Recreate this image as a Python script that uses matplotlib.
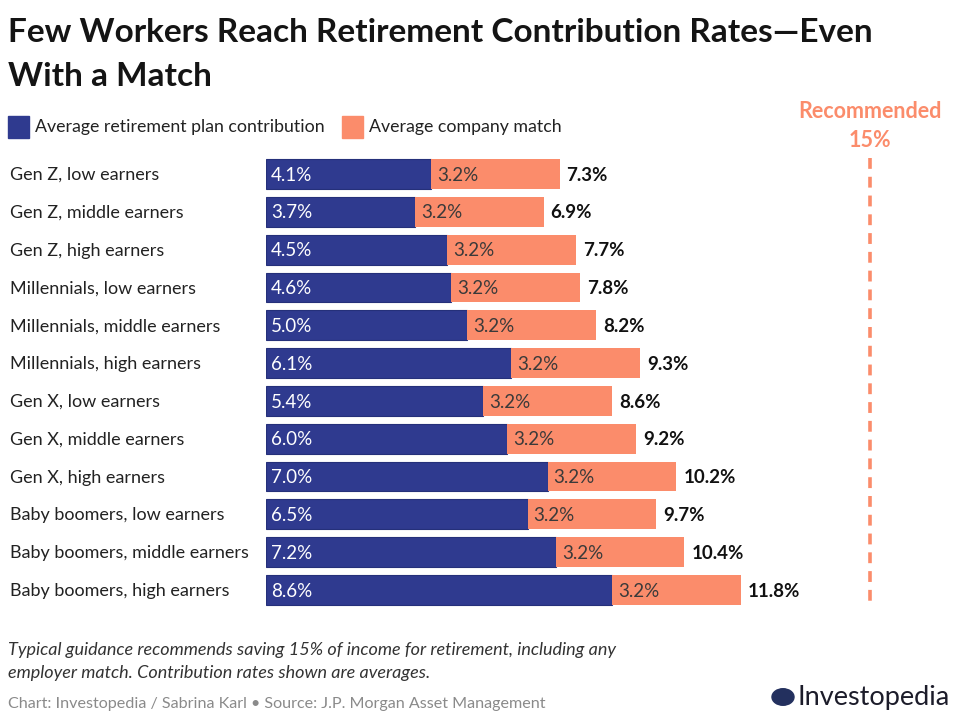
import matplotlib
matplotlib.use('Agg')
import matplotlib.pyplot as plt
from matplotlib.patches import Rectangle, Circle

plt.rcParams['font.family'] = ['Lato', 'DejaVu Sans']

categories = ['Gen Z, low earners', 'Gen Z, middle earners', 'Gen Z, high earners',
              'Millennials, low earners', 'Millennials, middle earners', 'Millennials, high earners',
              'Gen X, low earners', 'Gen X, middle earners', 'Gen X, high earners',
              'Baby boomers, low earners', 'Baby boomers, middle earners', 'Baby boomers, high earners']
contribution = [4.1, 3.7, 4.5, 4.6, 5.0, 6.1, 5.4, 6.0, 7.0, 6.5, 7.2, 8.6]
match = [3.2, 3.2, 3.2, 3.2, 3.2, 3.2, 3.2, 3.2, 3.2, 3.2, 3.2, 3.2]
recommended = 15

navy = '#2f3a8f'
salmon = '#fb8c6b'

W, H = 960, 722
fig = plt.figure(figsize=(W / 100, H / 100), dpi=100)

# axes placed in pixel terms: x0 at 266px, 40.24 px per percent point
left, right = 266, 266 + 17 * 40.24
top, bottom = 150, 610
ax = fig.add_axes([left / W, 1 - bottom / H, (right - left) / W, (bottom - top) / H])
ax.set_xlim(0, 17)
ax.set_ylim(11.53, -0.635)
ax.axis('off')

ys = list(range(len(categories)))
ax.barh(ys, contribution, height=0.79, color=navy, edgecolor='#25307a', linewidth=0.8)
ax.barh(ys, match, left=contribution, height=0.79, color=salmon, linewidth=0)

for y, c, m, name in zip(ys, contribution, match, categories):
    ax.text(0.12, y + 0.03, f'{c:.1f}%', color='white', fontsize=13.5, va='center', ha='left')
    ax.text(c + 0.15, y + 0.03, f'{m:.1f}%', color='#3a3a3a', fontsize=13.5, va='center', ha='left')
    ax.text(c + m + 0.17, y + 0.03, f'{c + m:.1f}%', color='#111111', fontsize=13.5,
            fontweight='bold', va='center', ha='left')
    fig.text(10 / W, 1 - (175 + 37.82 * y) / H, name, fontsize=13, color='#222222',
             va='center', ha='left')

ax.plot([recommended, recommended], [-0.42, 11.4], color=salmon, lw=2.6,
        dashes=(3, 2.2), solid_capstyle='butt')
ax.text(recommended, -1.27, 'Recommended\n15%', color=salmon, fontsize=15.5,
        fontweight='bold', ha='center', va='center', linespacing=1.45, clip_on=False)

# title
fig.text(8 / W, 1 - 33 / H, 'Few Workers Reach Retirement Contribution Rates\u2014Even',
         fontsize=24, fontweight='bold', color='#141414', va='center', ha='left')
fig.text(8 / W, 1 - 76 / H, 'With a Match', fontsize=24, fontweight='bold',
         color='#141414', va='center', ha='left')

# legend
fig.patches.append(Rectangle((8 / W, 1 - 138 / H), 21 / W, 22 / H, color=navy,
                             transform=fig.transFigure))
fig.text(35 / W, 1 - 127 / H, 'Average retirement plan contribution', fontsize=12.8,
         color='#222222', va='center', ha='left')
fig.patches.append(Rectangle((342 / W, 1 - 138 / H), 21 / W, 22 / H, color=salmon,
                             transform=fig.transFigure))
fig.text(369 / W, 1 - 127 / H, 'Average company match', fontsize=12.8,
         color='#222222', va='center', ha='left')

# footnote
fig.text(8 / W, 1 - 650 / H,
         'Typical guidance recommends saving 15% of income for retirement, including any',
         fontsize=13, style='italic', color='#333333', va='center', ha='left')
fig.text(8 / W, 1 - 673 / H, 'employer match. Contribution rates shown are averages.',
         fontsize=13, style='italic', color='#333333', va='center', ha='left')
fig.text(8 / W, 1 - 704 / H,
         'Chart: Investopedia / Sabrina Karl \u2022 Source: J.P. Morgan Asset Management',
         fontsize=11.6, color='#8a8a8a', va='center', ha='left')

# logo
fig.patches.append(Circle((783 / W, 1 - 697 / H), 11 / W, color='#23305e',
                          transform=fig.transFigure))
fig.text(798 / W, 1 - 697 / H, 'Investopedia', fontsize=19.5, color='#1c1c2a',
         va='center', ha='left')

fig.savefig('out.png', dpi=100, facecolor='white')
